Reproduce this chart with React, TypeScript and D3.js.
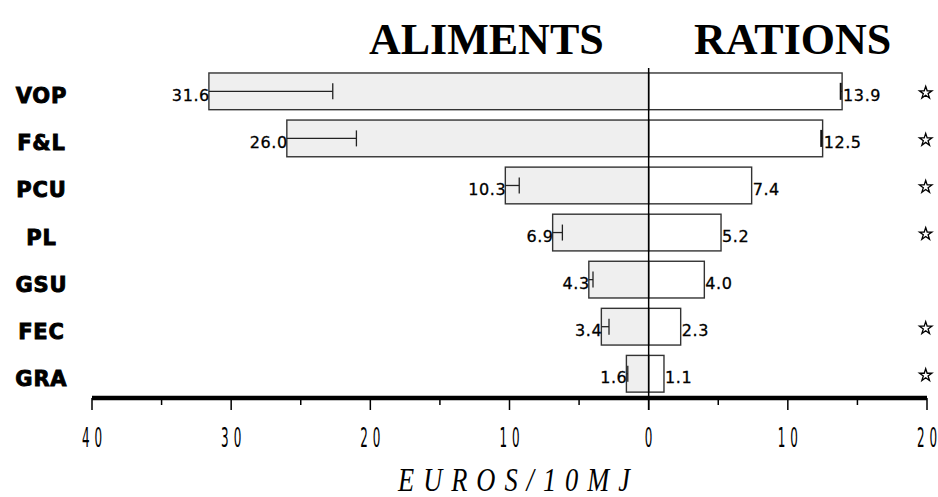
import React from 'react';
import * as d3 from 'd3';

// Food groups (rows, top to bottom)
const categories = ['VOP', 'F&L', 'PCU', 'PL', 'GSU', 'FEC', 'GRA'];
// Cost of foods (left side), EUROS / 10MJ
const alimentValues = [31.6, 26.0, 10.3, 6.9, 4.3, 3.4, 1.6];
// Inner end of the error whisker for the foods
const alimentErrorEnds = [22.7, 21.0, 9.3, 6.2, 4.0, 2.85, 1.5];
// Cost in rations (right side), EUROS / 10MJ
const rationValues = [13.9, 12.5, 7.4, 5.2, 4.0, 2.3, 1.1];
// Inner end of the error whisker for the rations (null = none drawn)
const rationErrorEnds: (number | null)[] = [13.8, 12.4, null, null, null, null, null];
// Significance marks shown at the right edge
const significant = [true, true, true, true, false, true, true];
// Axis ticks
const majorTicks = [-40, -30, -20, -10, 0, 10, 20];
const minorTicks = [-35, -25, -15, -5, 5, 15];

const W = 938;
const H = 497;

export default function App() {
  const x = d3.scaleLinear().domain([-40, 20]).range([92, 927]);
  const y = d3
    .scaleBand<string>()
    .domain(categories)
    .range([67.8, 397.3])
    .paddingInner(0.22)
    .paddingOuter(0.11);
  const bw = y.bandwidth();
  const x0 = x(0);
  const axisY = 398;
  const star = d3.symbol().type(d3.symbolStar).size(48)() as string;
  const barStroke = '#333';

  return (
    <svg
      width={W}
      height={H}
      style={{ position: 'absolute', left: 0, top: 0, background: '#fff' }}
    >
      {/* Section titles */}
      <text
        x={369}
        y={54}
        fontFamily="'Liberation Serif', 'Times New Roman', serif"
        fontWeight="bold"
        fontSize={44}
        fill="#000"
      >
        ALIMENTS
      </text>
      <text
        x={694}
        y={54}
        fontFamily="'Liberation Serif', 'Times New Roman', serif"
        fontWeight="bold"
        fontSize={44}
        fill="#000"
      >
        RATIONS
      </text>

      {categories.map((c, i) => {
        const top = y(c) as number;
        const cy = top + bw / 2;
        const la = alimentValues[i];
        const ra = rationValues[i];
        const le = alimentErrorEnds[i];
        const re = rationErrorEnds[i];
        return (
          <g key={c}>
            {/* Category label */}
            <text
              x={41}
              y={cy + 12}
              textAnchor="middle"
              fontFamily="'DejaVu Sans', Arial, sans-serif"
              fontWeight="bold"
              fontSize={21}
              letterSpacing={0.8}
              dx={0.4}
              stroke="#000"
              strokeWidth={0.9}
              fill="#000"
            >
              {c}
            </text>
            {/* Foods bar (left) */}
            <rect
              x={x(-la)}
              y={top}
              width={x0 - x(-la)}
              height={bw}
              fill="#efefef"
              stroke={barStroke}
              strokeWidth={1.4}
            />
            {/* Rations bar (right) */}
            <rect
              x={x0}
              y={top}
              width={x(ra) - x0}
              height={bw}
              fill="#fff"
              stroke={barStroke}
              strokeWidth={1.4}
            />
            {/* Foods error whisker */}
            <line x1={x(-la)} x2={x(-le)} y1={cy} y2={cy} stroke="#222" strokeWidth={1.3} />
            <line x1={x(-le)} x2={x(-le)} y1={cy - 8} y2={cy + 8} stroke="#222" strokeWidth={1.3} />
            {/* Rations error whisker */}
            {re !== null && (
              <g>
                <line x1={x(ra)} x2={x(re)} y1={cy} y2={cy} stroke="#222" strokeWidth={1.3} />
                <line x1={x(re)} x2={x(re)} y1={cy - 8.5} y2={cy + 8.5} stroke="#111" strokeWidth={2} />
              </g>
            )}
            {/* Value labels */}
            <text
              x={x(-la) + 1}
              y={cy + 9.5}
              textAnchor="end"
              fontFamily="'DejaVu Sans', Arial, sans-serif"
              fontSize={16}
              letterSpacing={0.6}
              stroke="#000"
              strokeWidth={0.3}
              fill="#000"
            >
              {la.toFixed(1)}
            </text>
            <text
              x={x(ra) + 1}
              y={cy + 9.5}
              textAnchor="start"
              fontFamily="'DejaVu Sans', Arial, sans-serif"
              fontSize={16}
              letterSpacing={0.6}
              stroke="#000"
              strokeWidth={0.3}
              fill="#000"
            >
              {ra.toFixed(1)}
            </text>
            {/* Significance mark */}
            {significant[i] && (
              <path
                d={star}
                transform={`translate(${925.7},${cy + 1.5})`}
                fill="#fff"
                stroke="#000"
                strokeWidth={1.3}
              />
            )}
          </g>
        );
      })}

      {/* Zero line */}
      <line x1={x0} x2={x0} y1={68} y2={410} stroke="#000" strokeWidth={1.5} />

      {/* Bottom axis */}
      <line x1={x(-40)} x2={x(20)} y1={axisY} y2={axisY} stroke="#000" strokeWidth={4.5} />
      {majorTicks.map((t) => (
        <line key={`M${t}`} x1={x(t)} x2={x(t)} y1={axisY} y2={410} stroke="#000" strokeWidth={1.5} />
      ))}
      {minorTicks.map((t) => (
        <line key={`m${t}`} x1={x(t)} x2={x(t)} y1={axisY} y2={405} stroke="#000" strokeWidth={1.5} />
      ))}
      {majorTicks.map((t) => {
        const label = String(Math.abs(t));
        return (
          <text
            key={`L${t}`}
            transform={`translate(${x(t)},447) scale(0.46,1)`}
            textAnchor="middle"
            fontFamily="'DejaVu Sans', sans-serif"
            fontSize={26}
            textLength={label.length > 1 ? 44 : undefined}
            lengthAdjust="spacing"
            fill="#000"
          >
            {label}
          </text>
        );
      })}

      {/* Axis title */}
      <text
        transform={`translate(${514},491) scale(0.8,1)`}
        textAnchor="middle"
        fontFamily="'Liberation Serif', 'Times New Roman', serif"
        fontStyle="italic"
        fontSize={33}
        textLength={290}
        lengthAdjust="spacing"
        fill="#000"
      >
        EUROS/10MJ
      </text>
    </svg>
  );
}
